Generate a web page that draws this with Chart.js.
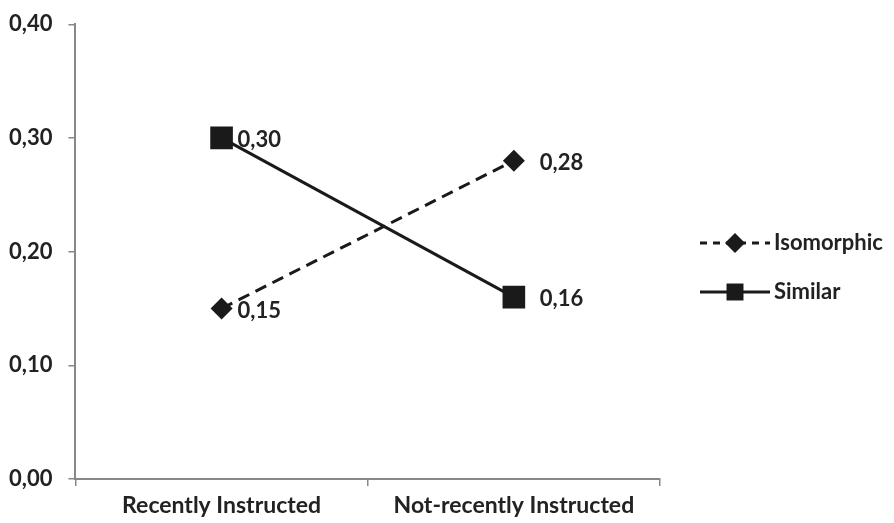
<!DOCTYPE html>
<html><head><meta charset="utf-8">
<script src="https://cdn.jsdelivr.net/npm/chart.js@4/dist/chart.umd.min.js"></script>
<style>html,body{margin:0;padding:0;background:#fff}#wrap{width:894px;height:523px}</style>
</head><body><div id="wrap"><canvas id="c" width="894" height="523"></canvas></div>
<script>
const categories = ["Recently Instructed", "Not-recently Instructed"];
const isomorphic = [0.15, 0.28];
const similar = [0.30, 0.16];
const yTicks = [0, 0.1, 0.2, 0.3, 0.4];
const seriesNames = ["Isomorphic", "Similar"];

const FONT = "Lato, 'Open Sans', sans-serif";
const fmt = v => v.toFixed(2).replace('.', ',');

const extras = {
  id: 'extras',
  afterDatasetsDraw(chart) {
    const ctx = chart.ctx;
    const xs = chart.scales.x, ys = chart.scales.y;
    ctx.save();
    ctx.fillStyle = '#222';
    ctx.font = "bold 22px " + FONT;
    ctx.textBaseline = 'middle';
    ctx.textAlign = 'left';
    chart.data.datasets.forEach((ds, di) => {
      ds.data.forEach((v, i) => {
        const x = xs.getPixelForValue(i);
        const y = ys.getPixelForValue(v);
        const dx = i === 0 ? 16 : 26;
        ctx.fillText(fmt(v), x + dx, y + 2);
      });
    });
    // legend
    const lx = 700, items = [{y: 243, dash: [7, 6], style: 'rectRot', r: 10}, {y: 292, dash: [], style: 'rect', r: 12}];
    items.forEach((it, k) => {
      ctx.strokeStyle = '#1a1a1a';
      ctx.lineWidth = 3;
      ctx.setLineDash(it.dash);
      ctx.beginPath();
      ctx.moveTo(lx, it.y);
      ctx.lineTo(lx + 70, it.y);
      ctx.stroke();
      ctx.setLineDash([]);
      ctx.fillStyle = '#1a1a1a';
      Chart.helpers.drawPoint(ctx, {pointStyle: it.style, radius: it.r, borderWidth: 0}, lx + 35, it.y);
      ctx.fillStyle = '#222';
      ctx.fillText(seriesNames[k], lx + 74, it.y);
    });
    ctx.restore();
  }
};

new Chart(document.getElementById('c'), {
  type: 'line',
  data: {
    labels: categories,
    datasets: [
      {label: seriesNames[0], data: isomorphic, borderColor: '#1a1a1a', backgroundColor: '#1a1a1a',
       borderWidth: 3, borderDash: [12, 7], pointStyle: 'rectRot', pointRadius: 11, pointBorderWidth: 0, tension: 0},
      {label: seriesNames[1], data: similar, borderColor: '#1a1a1a', backgroundColor: '#1a1a1a',
       borderWidth: 3, pointStyle: 'rect', pointRadius: 16, pointBorderWidth: 0, tension: 0}
    ]
  },
  options: {
    responsive: false,
    animation: false,
    layout: {autoPadding: false, padding: {left: -7, right: 234, top: 14, bottom: -3}},
    plugins: {legend: {display: false}, tooltip: {enabled: false}},
    scales: {
      x: {
        type: 'category', offset: true,
        grid: {display: true, drawOnChartArea: false, offset: true, tickLength: 7, color: '#888', lineWidth: 1.5},
        border: {display: true, color: '#888', width: 2},
        ticks: {color: '#222', font: {family: FONT, size: 23, weight: 'bold', lineHeight: 1}, padding: 8.5}
      },
      y: {
        min: 0, max: 0.4,
        afterBuildTicks: s => { s.ticks = yTicks.map(v => ({value: v})); },
        grid: {display: true, drawOnChartArea: false, tickLength: 7, color: '#888', lineWidth: 1.5},
        border: {display: true, color: '#888', width: 2},
        ticks: {color: '#222', font: {family: FONT, size: 22, weight: 'bold', lineHeight: 0.75}, padding: 16, callback: v => fmt(v)}
      }
    }
  },
  plugins: [extras]
});
</script></body></html>
